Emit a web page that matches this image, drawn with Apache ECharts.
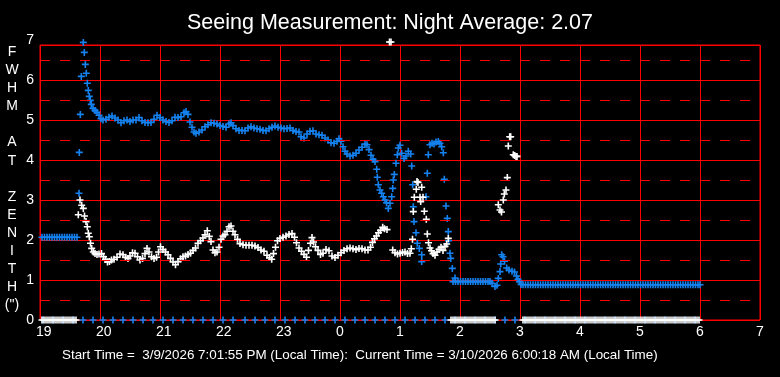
<!DOCTYPE html>
<html>
<head>
<meta charset="utf-8">
<style>
  html, body { margin: 0; padding: 0; background: #000; }
  #chart { width: 780px; height: 377px; }
</style>
<script src="https://cdn.jsdelivr.net/npm/echarts@6/dist/echarts.min.js"></script>
</head>
<body>
<div id="chart"></div>
<script>
// TIME IS IN MINUTES AFTER 19:00 LOCAL, VALUES ARE FWHM AT ZENITH (arcsec)
const hourLabels = ['19', '20', '21', '22', '23', '0', '1', '2', '3', '4', '5', '6', '7'];
const halfLevels = [0.5, 1.5, 2.5, 3.5, 4.5, 5.5, 6.5];
const yAxisLetters = ['F', 'W', 'H', 'M', '', 'A', 'T', '', 'Z', 'E', 'N', 'I', 'T', 'H', '(")'];

// BLUE FLAT STRETCHES (time list + level)
const blueEarlyTimes = [2, 4.5, 7, 9.5, 12, 14.5, 17, 19.5, 22, 24.5, 27, 29.5, 32, 34.5, 37];
const blueEarlyLevel = 2.07;
const blueBandTimes = [413, 415.5, 418, 420.5, 423, 425.5, 428, 430.5, 433, 435.5, 438, 440.5, 443, 445.5, 448, 450];
const blueBandLevel = 0.96;
const blueLateTimes = [483, 485.5, 488, 490.5, 493, 495.5, 498, 500.5, 503, 505.5, 508, 510.5, 513, 515.5, 518, 520.5,
    523, 525.5, 528, 530.5, 533, 535.5, 538, 540.5, 543, 545.5, 548, 550.5, 553, 555.5, 558, 560.5, 563, 565.5,
    568, 570.5, 573, 575.5, 578, 580.5, 583, 585.5, 588, 590.5, 593, 595.5, 598, 600.5, 603, 605.5, 608, 610.5,
    613, 615.5, 618, 620.5, 623, 625.5, 628, 630.5, 633, 635.5, 638, 640.5, 643, 645.5, 648, 650.5, 653, 655.5,
    658, 660];
const blueLateLevel = 0.88;

// ZERO READINGS
const blueZeroTimes = [3, 13, 23, 33, 43, 53, 63, 73, 83, 93, 103, 113, 123, 133, 143, 153, 163, 173, 183, 193,
    205, 215, 225, 235, 245, 255, 265, 275, 285, 295, 305, 315, 325, 335, 345, 355, 365, 375, 385, 395,
    405, 415, 425, 435, 445, 455, 465, 475, 485, 495, 505, 515, 525, 535, 545, 555, 565, 575, 585, 595,
    605, 615, 625, 635, 645, 655];
const whiteZeroTimes = [2, 4, 6, 8, 10, 12, 14, 16, 18, 20, 22, 24, 26, 28, 30, 32, 34, 36,
    411, 413, 415, 417, 419, 421, 423, 425, 427, 429, 431, 433, 435, 437, 439, 441, 443, 445, 447, 449, 451, 453, 455,
    483, 485, 487, 489, 491, 493, 495, 497, 499, 501, 503, 505, 507, 509, 511, 513, 515, 517, 519, 521, 523, 525,
    527, 529, 531, 533, 535, 537, 539, 541, 543, 545, 547, 549, 551, 553, 555, 557, 559, 561, 563, 565, 567, 569,
    571, 573, 575, 577, 579, 581, 583, 585, 587, 589, 591, 593, 595, 597, 599, 601, 603, 605, 607, 609, 611, 613,
    615, 617, 619, 621, 623, 625, 627, 629, 631, 633, 635, 637, 639, 641, 643, 645, 647, 649, 651, 653, 655, 657, 659];

// BLUE MEASUREMENTS
const blueSeeing = [
    [39, 3.17], [39.3, 4.19], [40.3, 5.14], [41.3, 6.09], [43.3, 6.94], [44.3, 6.69], [45.3, 6.39], [46.3, 6.17],
    [47.3, 5.92], [48.3, 5.74], [49.3, 5.59], [50.3, 5.49], [51.3, 5.39], [53, 5.29], [55, 5.24], [57, 5.19],
    [59, 5.12], [61, 5.03], [63, 5.0], [66, 5.02], [69, 5.07], [72, 5.1], [75, 5.05], [78, 5.0], [81, 4.93],
    [84, 4.98], [87, 5.0], [90, 4.96], [93, 5.0], [96, 5.0], [99, 5.06], [102, 4.98], [105, 4.94], [108, 4.93],
    [111, 4.94], [114, 5.02], [117, 5.12], [120, 5.06], [123, 5.0], [126, 4.96], [129, 4.94], [132, 4.98],
    [135, 5.07], [138, 5.06], [141, 5.08], [144, 5.18], [146, 5.21], [148, 5.14], [150, 4.95], [152, 4.82],
    [154, 4.7], [156, 4.67], [159, 4.7], [162, 4.75], [165, 4.83], [168, 4.88], [171, 4.93], [174, 4.92],
    [177, 4.9], [180, 4.86], [183, 4.84], [186, 4.82], [189, 4.9], [191, 4.93], [193, 4.86], [196, 4.78],
    [199, 4.74], [202, 4.74], [205, 4.73], [208, 4.8], [211, 4.83], [214, 4.8], [217, 4.78], [220, 4.77],
    [223, 4.74], [226, 4.73], [229, 4.78], [232, 4.82], [235, 4.85], [238, 4.82], [241, 4.8], [244, 4.78],
    [247, 4.79], [250, 4.8], [253, 4.74], [256, 4.71], [259, 4.7], [261, 4.58], [264, 4.55], [267, 4.65],
    [270, 4.72], [273, 4.73], [276, 4.65], [279, 4.63], [282, 4.62], [285, 4.55], [288, 4.5], [291, 4.43],
    [294, 4.42], [297, 4.47], [299, 4.53], [301, 4.47], [303, 4.33], [305, 4.22], [307, 4.15], [310, 4.1],
    [313, 4.12], [316, 4.17], [319, 4.25], [322, 4.32], [325, 4.4], [327, 4.38], [329, 4.26], [331, 4.12],
    [333, 4.02], [335, 3.96], [336.7, 3.77], [337.3, 3.57], [338.3, 3.38], [340, 3.25], [341.7, 3.17],
    [343.3, 3.08], [345, 3.0], [346.5, 2.93], [348.3, 2.79], [350, 2.92], [351.7, 3.08], [352.7, 3.29],
    [353.3, 3.5], [354.3, 3.64], [356, 3.92], [357.3, 4.13], [358.3, 4.3], [360, 4.37], [361.7, 4.17],
    [364, 4.04], [366, 4.1], [368.3, 4.22], [370.7, 4.15], [371.7, 3.85], [372.7, 3.38], [373.3, 2.83],
    [374, 2.46], [376, 2.18], [377.3, 1.92], [379.3, 1.79], [381.7, 1.63], [381.7, 1.46], [386, 3.08],
    [387.3, 3.67], [388.3, 4.13], [390, 4.38], [392, 4.42], [394, 4.4], [396, 4.45], [398.3, 4.46], [400, 4.42],
    [401.7, 4.33], [403.3, 4.18], [404.3, 3.52], [406, 2.85], [407.3, 2.54], [408.3, 2.21], [408.6, 1.98],
    [410, 1.67], [410.7, 1.54], [412.3, 1.29], [415, 1.05],
    [452, 0.92], [455, 0.84], [457, 0.87], [458.3, 1.04], [460, 1.21], [460.7, 1.4], [461.7, 1.63], [463, 1.58],
    [464.5, 1.47], [466.7, 1.3], [469, 1.25], [472, 1.22], [474.5, 1.2], [476.5, 1.1], [478, 1.02],
    [479.5, 0.96], [481, 0.89]
];

// WHITE MEASUREMENTS
const whiteSeeing = [
    [38.3, 2.63], [40, 3.0], [41.7, 2.87], [43.3, 2.79], [44.5, 2.6], [46, 2.46], [47.3, 2.33], [48.3, 2.17],
    [49.3, 2.08], [50.5, 1.92], [51.7, 1.79], [53.3, 1.7], [55, 1.66], [57, 1.64], [59, 1.65], [61.5, 1.66],
    [63.5, 1.58], [65.5, 1.52], [67.5, 1.45], [69.5, 1.46], [71.5, 1.5], [74, 1.52], [77, 1.57], [80, 1.65],
    [83, 1.63], [85.5, 1.57], [88, 1.54], [90, 1.6], [92.5, 1.68], [95, 1.67], [97.5, 1.58], [100, 1.5],
    [102.5, 1.54], [105, 1.66], [107, 1.79], [109, 1.7], [111.5, 1.58], [114, 1.54], [116.5, 1.57], [118.5, 1.7],
    [120.5, 1.83], [123, 1.76], [125.5, 1.7], [128, 1.63], [130.5, 1.54], [133, 1.45], [135.5, 1.38], [138, 1.46],
    [140.5, 1.53], [143, 1.58], [145.5, 1.6], [148, 1.64], [150.5, 1.67], [153, 1.74], [155.5, 1.8], [158, 1.92],
    [160.5, 1.98], [163, 2.05], [165, 2.13], [167.3, 2.23], [169.3, 2.09], [171, 1.96], [173, 1.75], [175, 1.68],
    [177, 1.7], [179, 1.82], [181, 2.02], [183, 2.1], [185, 2.13], [187, 2.22], [189, 2.33], [191, 2.35],
    [193, 2.22], [195, 2.13], [197.5, 2.02], [200, 1.91], [203, 1.88], [206, 1.87], [209, 1.87], [212, 1.87],
    [215, 1.85], [218, 1.81], [221, 1.75], [224, 1.72], [227, 1.62], [229.5, 1.56], [231.7, 1.52], [233.5, 1.66],
    [235.5, 1.82], [237.5, 1.98], [240, 2.04], [243, 2.07], [246, 2.1], [249, 2.14], [252, 2.16], [254.5, 2.07],
    [256.5, 1.93], [259, 1.8], [261.5, 1.72], [264, 1.64], [266.5, 1.57], [268.5, 1.74], [270.5, 1.92], [272, 2.06],
    [273.5, 1.95], [275.5, 1.83], [278, 1.74], [280.5, 1.64], [283, 1.67], [286, 1.76], [289, 1.73], [292, 1.6],
    [295, 1.56], [298, 1.62], [301, 1.68], [304, 1.74], [307, 1.78], [310, 1.8], [313, 1.78], [316, 1.76],
    [319, 1.79], [322, 1.78], [325, 1.75], [328, 1.75], [330.5, 1.82], [332.5, 1.94], [334.5, 2.03], [336.5, 2.1],
    [338.5, 2.18], [340.5, 2.24], [342.7, 2.32], [344.5, 2.28], [347, 2.26],
    [349.5, 6.95], [351, 6.95],
    [352.7, 1.75], [355, 1.68], [357.5, 1.65], [360, 1.67], [362.5, 1.69], [365, 1.7], [367.5, 1.66], [370, 1.67],
    [371.3, 1.78], [372.5, 2.02], [373.3, 2.71], [374.3, 3.07], [376.3, 3.27], [377, 3.46], [378, 3.44], [380, 3.07],
    [380.7, 2.96], [381.7, 3.32], [383, 3.07], [384.3, 2.72], [386.3, 2.52], [387.3, 2.15], [388.5, 1.93], [390, 1.8],
    [391.5, 1.73], [393, 1.66], [395, 1.62], [397, 1.7], [399, 1.77], [401, 1.82], [403, 1.74], [405, 1.84],
    [406.7, 1.9], [408.3, 2.04],
    [458.3, 2.88], [460, 2.75], [461.5, 2.7], [463.3, 3.0], [464.3, 3.15], [466, 3.25], [467.3, 3.56], [468.3, 4.35],
    [469.7, 4.58], [470.7, 4.58], [473.3, 4.13], [474.7, 4.11], [476, 4.09], [477, 4.09]
];

const chartTitle = 'Seeing Measurement: Night Average: 2.07';
const footerText = 'Start Time =  3/9/2026 7:01:55 PM (Local Time):  Current Time = 3/10/2026 6:00:18 AM (Local Time)';

const PLUS = 'path://M0,2.7H7V4.3H0Z M2.7,0H4.3V7H2.7Z';
const RED = '#ff0000';
const BLUE = '#1482f0';
const FONT = '"Liberation Sans", Arial, sans-serif';

const chart = echarts.init(document.querySelector('#chart'));

function level(times, value) {
    return times.map(t => [t, value]);
}

const blueData = level(blueEarlyTimes, blueEarlyLevel)
    .concat(blueSeeing)
    .concat(level(blueBandTimes, blueBandLevel))
    .concat(level(blueLateTimes, blueLateLevel));

const scatter = (data, color) => ({
    type: 'scatter',
    data: data,
    symbol: PLUS,
    symbolSize: 7,
    clip: false,
    silent: true,
    itemStyle: { color: color, opacity: 1 }
});

const option = {
    backgroundColor: '#000',
    animation: false,
    title: {
        text: chartTitle,
        left: 'center',
        top: 7,
        textStyle: { color: '#fff', fontSize: 21.5, fontWeight: 'normal', fontFamily: FONT }
    },
    grid: {
        left: 40,
        right: 20,
        top: 45,
        bottom: 57,
        show: true,
        borderColor: RED,
        borderWidth: 1,
        backgroundColor: '#000'
    },
    xAxis: {
        type: 'value',
        min: 0,
        max: 720,
        interval: 60,
        axisLine: { show: false },
        axisTick: { show: false },
        splitLine: { show: true, lineStyle: { color: RED, width: 1 } },
        axisLabel: {
            color: '#fff',
            fontSize: 14,
            fontFamily: FONT,
            margin: 5,
            align: 'left',
            padding: [0, 0, 0, -4],
            formatter: v => hourLabels[Math.round(v / 60)]
        }
    },
    yAxis: {
        type: 'value',
        min: 0,
        max: 6.875,
        interval: 1,
        axisLine: { show: false },
        axisTick: { show: false },
        splitLine: { show: true, lineStyle: { color: RED, width: 1 } },
        axisLabel: {
            color: '#fff',
            fontSize: 14,
            fontFamily: FONT,
            margin: 6,
            formatter: v => v > 6.5 ? '{t|7}' : String(v),
            rich: { t: { color: '#fff', fontSize: 14, fontFamily: FONT, padding: [0, 0, 10, 0] } }
        }
    },
    graphic: [
        {
            type: 'text',
            x: 12,
            y: 43,
            style: {
                text: yAxisLetters.join('\n'),
                fill: '#fff',
                font: '14px ' + FONT,
                align: 'center',
                verticalAlign: 'top',
                lineHeight: 18.1
            }
        },
        {
            type: 'text',
            x: 62,
            y: 355,
            style: {
                text: footerText,
                fill: '#fff',
                font: '13.4px ' + FONT,
                align: 'left',
                verticalAlign: 'middle'
            }
        }
    ],
    series: [
        Object.assign(scatter(level(blueZeroTimes, 0), BLUE), {
            markLine: {
                silent: true,
                symbol: ['none', 'none'],
                label: { show: false },
                lineStyle: { color: RED, width: 1, type: [10, 10] },
                data: halfLevels.map(v => ({ yAxis: v }))
            }
        }),
        scatter(level(whiteZeroTimes, 0), '#fff'),
        scatter(blueData, BLUE),
        scatter(whiteSeeing, '#fff')
    ]
};

chart.setOption(option);
</script>
</body>
</html>
